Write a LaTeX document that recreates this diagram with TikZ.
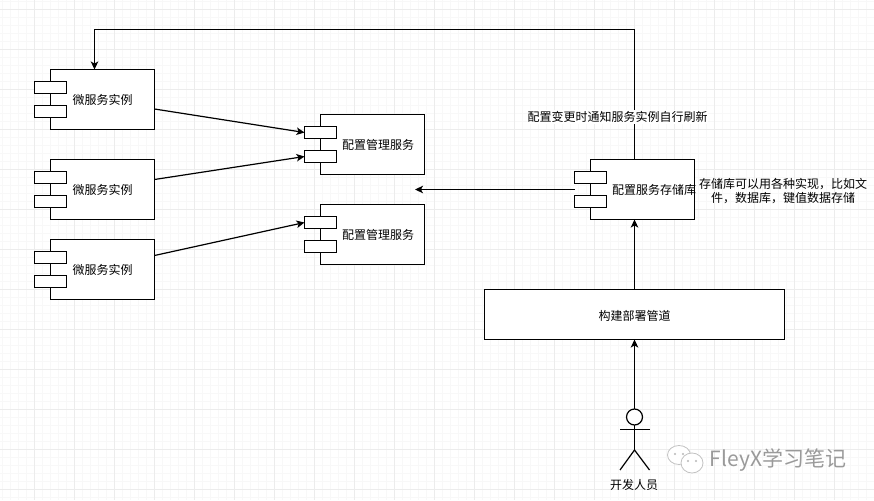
\documentclass[tikz,border=0pt]{standalone}
\usepackage{fontspec}
\setmainfont{Noto Sans CJK SC}
\usetikzlibrary{arrows.meta}
\definecolor{gridmajor}{HTML}{ECECEC}
\definecolor{gridminor}{HTML}{F8F8F8}
\definecolor{wmark}{HTML}{9A9A9A}
\tikzset{
  x=1pt,y=-1pt,
  every node/.style={font=\fontsize{12}{14}\selectfont,text=black,inner sep=0pt,outer sep=0pt},
  body/.style={draw=black,line width=1.2pt,fill=white,rectangle,minimum width=104pt,minimum height=60pt},
  port/.style={draw=black,line width=1.2pt,fill=white,rectangle,minimum width=32pt,minimum height=12pt},
  conn/.style={draw=black,line width=1.2pt,-{Stealth[length=8pt,width=7.5pt,inset=2pt]}},
  stick/.style={draw=black,line width=1.2pt},
  bubble/.style={draw=wmark!60,line width=0.8pt,fill=white}
}
\begin{document}
\begin{tikzpicture}
\useasboundingbox (0,0) rectangle (874,500);
\fill[white] (0,0) rectangle (874,500);
% grid
\foreach \k in {0,...,109} {\draw[gridminor,line width=0.6pt] ({2+8*\k},0) -- ({2+8*\k},500);}
\foreach \k in {0,...,62} {\draw[gridminor,line width=0.6pt] (0,{1+8*\k}) -- (874,{1+8*\k});}
\foreach \k in {0,...,21} {\draw[gridmajor,line width=0.7pt] ({-6+40*\k},0) -- ({-6+40*\k},500);}
\foreach \k in {0,...,12} {\draw[gridmajor,line width=0.7pt] (0,{9+40*\k}) -- (874,{9+40*\k});}

% component bodies
\node[body] (inst1) at (102.5,99.5) {};
\node[body] (inst2) at (102.5,189.5) {};
\node[body] (inst3) at (102.5,269.5) {};
\node[body] (mgr1) at (372.5,144.5) {};
\node[body] (mgr2) at (372.5,234.5) {};
\node[body] (store) at (642.5,189.5) {};
\node[draw=black,line width=1.2pt,fill=white,rectangle,minimum width=300pt,minimum height=50pt] (pipe) at (634.5,314.5) {};

% ports
\foreach \n/\x/\y in {inst1/50.5/99.5,inst2/50.5/189.5,inst3/50.5/269.5,mgr1/320.5/144.5,mgr2/320.5/234.5,store/590.5/189.5} {
  \node[port] (\n a) at (\x,\y-12) {};
  \node[port] (\n b) at (\x,\y+12) {};
}

% component labels
\node (tinst1) at (102.5,100) {微服务实例};
\node (tinst2) at (102.5,190) {微服务实例};
\node (tinst3) at (102.5,270) {微服务实例};
\node (tmgr1) at (378,145) {配置管理服务};
\node (tmgr2) at (378,235) {配置管理服务};
\node (tstore) at (654,190) {配置服务存储库};
\node (tpipe) at (634.5,316) {构建部署管道};

% actor
\node[draw=black,line width=1.2pt,circle,minimum size=16pt,fill=white] (head) at (634.5,417) {};
\coordinate (hip) at (634.5,450);
\coordinate (armL) at (620,429.5);
\coordinate (armR) at (649.5,429.5);
\coordinate (footL) at (620,470);
\coordinate (footR) at (649.5,470);
\draw[stick] (head.south) -- (hip);
\draw[stick] (armL) -- (armR);
\draw[stick] (footL) -- (hip) -- (footR);
\node (tactor) at (634,485) {开发人员};

% connectors
\draw[conn] ([yshift=-9.5pt]inst1.east) -- (mgr1a.west);
\draw[conn] ([yshift=10pt]inst2.east) -- (mgr1b.west);
\draw[conn] ([yshift=14pt]inst3.east) -- (mgr2a.west);
\coordinate (storeout) at (574.5,189.5);
\coordinate (storein) at (415,189.5);
\draw[conn] (storeout) -- (storein);
\coordinate (storetop) at (634.5,159.5);
\coordinate (c1) at (634.5,29.5);
\coordinate (c2) at (94.5,29.5);
\coordinate (inst1top) at (94.5,69.5);
\draw[conn] (storetop) -- (c1) -- (c2) -- (inst1top);
\coordinate (storebot) at (634.5,219.5);
\draw[conn] (pipe.north) -- (storebot);
\coordinate (pipebot) at (634.5,339.5);
\draw[conn] (head.north) -- (pipebot);

% free labels
\node[fill=white,inner xsep=0pt,inner ysep=1pt] (tnotify) at (617.5,117) {配置变更时通知服务实例自行刷新};
\node[align=center,text width=170pt] (tnote) at (783,191.5) {存储库可以用各种实现，比如文\\件，数据库，键值数据存储};

% watermark
\draw[bubble] (679,455) ellipse (11.5 and 9.5);
\draw[bubble] (692,463) ellipse (11 and 10);
\fill[wmark!70] (675,454) circle (1.2) (683,454) circle (1.2) (688,461) circle (1.2) (696,461) circle (1.2);
\node[text=wmark,font=\fontsize{21}{23}\selectfont] (wm) at (778,460) {FleyX学习笔记};
\end{tikzpicture}
\end{document}
